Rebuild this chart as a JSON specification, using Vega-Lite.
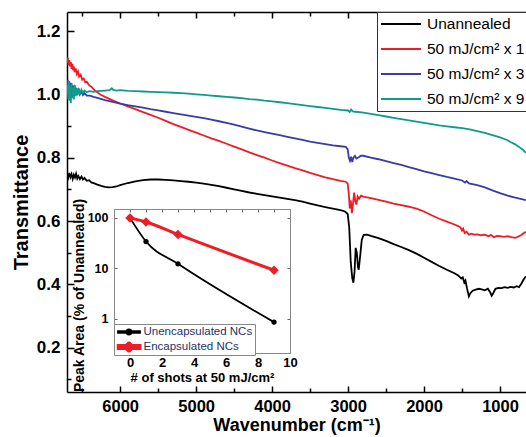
{
"$schema": "https://vega.github.io/schema/vega-lite/v6.json",
"width": 459,
"height": 380,
"autosize": {"type": "none"},
"padding": {"left": 67, "top": 12, "right": 0, "bottom": 45},
"background": "white",
"config": {"view": {"stroke": null}, "font": "Liberation Sans", "axis": {"grid": false}},
"datasets": {
"inset": [
{"g":"Unencapsulated NCs","n":0,"p":100},{"g":"Unencapsulated NCs","n":1,"p":34},{"g":"Unencapsulated NCs","n":3,"p":12.3},{"g":"Unencapsulated NCs","n":9,"p":0.86},
{"g":"Encapsulated NCs","n":0,"p":100},{"g":"Encapsulated NCs","n":1,"p":83},{"g":"Encapsulated NCs","n":3,"p":47},{"g":"Encapsulated NCs","n":9,"p":9.2}
],
"spec": [
{"s":"Unannealed","w":6700,"t":0.745},{"s":"Unannealed","w":6685,"t":0.736},{"s":"Unannealed","w":6670,"t":0.752},{"s":"Unannealed","w":6655,"t":0.738},{"s":"Unannealed","w":6640,"t":0.748},{"s":"Unannealed","w":6625,"t":0.733},{"s":"Unannealed","w":6610,"t":0.746},{"s":"Unannealed","w":6595,"t":0.737},{"s":"Unannealed","w":6580,"t":0.749},{"s":"Unannealed","w":6565,"t":0.734},{"s":"Unannealed","w":6550,"t":0.742},{"s":"Unannealed","w":6530,"t":0.732},{"s":"Unannealed","w":6510,"t":0.740},{"s":"Unannealed","w":6490,"t":0.731},{"s":"Unannealed","w":6470,"t":0.736},{"s":"Unannealed","w":6440,"t":0.727},{"s":"Unannealed","w":6410,"t":0.729},{"s":"Unannealed","w":6380,"t":0.722},{"s":"Unannealed","w":6340,"t":0.719},{"s":"Unannealed","w":6300,"t":0.715},{"s":"Unannealed","w":6250,"t":0.711},{"s":"Unannealed","w":6200,"t":0.708},{"s":"Unannealed","w":6150,"t":0.706},{"s":"Unannealed","w":6100,"t":0.707},{"s":"Unannealed","w":6050,"t":0.709},{"s":"Unannealed","w":6000,"t":0.713},{"s":"Unannealed","w":5900,"t":0.720},{"s":"Unannealed","w":5800,"t":0.725},{"s":"Unannealed","w":5700,"t":0.729},{"s":"Unannealed","w":5600,"t":0.731},{"s":"Unannealed","w":5500,"t":0.731},{"s":"Unannealed","w":5400,"t":0.730},{"s":"Unannealed","w":5300,"t":0.728},{"s":"Unannealed","w":5200,"t":0.726},{"s":"Unannealed","w":5100,"t":0.724},{"s":"Unannealed","w":5000,"t":0.721},{"s":"Unannealed","w":4900,"t":0.718},{"s":"Unannealed","w":4800,"t":0.714},{"s":"Unannealed","w":4700,"t":0.710},{"s":"Unannealed","w":4600,"t":0.705},{"s":"Unannealed","w":4500,"t":0.700},{"s":"Unannealed","w":4400,"t":0.695},{"s":"Unannealed","w":4300,"t":0.690},{"s":"Unannealed","w":4200,"t":0.686},{"s":"Unannealed","w":4100,"t":0.682},{"s":"Unannealed","w":4000,"t":0.678},{"s":"Unannealed","w":3900,"t":0.674},{"s":"Unannealed","w":3800,"t":0.670},{"s":"Unannealed","w":3700,"t":0.666},{"s":"Unannealed","w":3600,"t":0.661},{"s":"Unannealed","w":3500,"t":0.655},{"s":"Unannealed","w":3400,"t":0.649},{"s":"Unannealed","w":3300,"t":0.644},{"s":"Unannealed","w":3200,"t":0.639},{"s":"Unannealed","w":3100,"t":0.634},{"s":"Unannealed","w":3040,"t":0.630},{"s":"Unannealed","w":3005,"t":0.622},{"s":"Unannealed","w":2985,"t":0.58},{"s":"Unannealed","w":2965,"t":0.47},{"s":"Unannealed","w":2945,"t":0.42},{"s":"Unannealed","w":2930,"t":0.405},{"s":"Unannealed","w":2915,"t":0.44},{"s":"Unannealed","w":2900,"t":0.515},{"s":"Unannealed","w":2885,"t":0.50},{"s":"Unannealed","w":2870,"t":0.455},{"s":"Unannealed","w":2860,"t":0.446},{"s":"Unannealed","w":2845,"t":0.48},{"s":"Unannealed","w":2820,"t":0.54},{"s":"Unannealed","w":2795,"t":0.556},{"s":"Unannealed","w":2750,"t":0.557},{"s":"Unannealed","w":2700,"t":0.553},{"s":"Unannealed","w":2600,"t":0.546},{"s":"Unannealed","w":2500,"t":0.537},{"s":"Unannealed","w":2400,"t":0.527},{"s":"Unannealed","w":2300,"t":0.518},{"s":"Unannealed","w":2200,"t":0.508},{"s":"Unannealed","w":2100,"t":0.497},{"s":"Unannealed","w":2000,"t":0.484},{"s":"Unannealed","w":1900,"t":0.471},{"s":"Unannealed","w":1800,"t":0.458},{"s":"Unannealed","w":1700,"t":0.446},{"s":"Unannealed","w":1600,"t":0.435},{"s":"Unannealed","w":1550,"t":0.428},{"s":"Unannealed","w":1510,"t":0.418},{"s":"Unannealed","w":1490,"t":0.422},{"s":"Unannealed","w":1470,"t":0.406},{"s":"Unannealed","w":1455,"t":0.412},{"s":"Unannealed","w":1435,"t":0.388},{"s":"Unannealed","w":1410,"t":0.362},{"s":"Unannealed","w":1390,"t":0.372},{"s":"Unannealed","w":1360,"t":0.380},{"s":"Unannealed","w":1320,"t":0.383},{"s":"Unannealed","w":1280,"t":0.386},{"s":"Unannealed","w":1240,"t":0.384},{"s":"Unannealed","w":1200,"t":0.381},{"s":"Unannealed","w":1160,"t":0.386},{"s":"Unannealed","w":1130,"t":0.375},{"s":"Unannealed","w":1110,"t":0.364},{"s":"Unannealed","w":1090,"t":0.372},{"s":"Unannealed","w":1060,"t":0.386},{"s":"Unannealed","w":1020,"t":0.389},{"s":"Unannealed","w":980,"t":0.388},{"s":"Unannealed","w":940,"t":0.391},{"s":"Unannealed","w":900,"t":0.389},{"s":"Unannealed","w":860,"t":0.392},{"s":"Unannealed","w":820,"t":0.390},{"s":"Unannealed","w":780,"t":0.394},{"s":"Unannealed","w":750,"t":0.391},{"s":"Unannealed","w":720,"t":0.402},{"s":"Unannealed","w":690,"t":0.415},{"s":"Unannealed","w":660,"t":0.425},
{"s":"50 mJ/cm² x 1","w":6700,"t":1.100},{"s":"50 mJ/cm² x 1","w":6690,"t":1.115},{"s":"50 mJ/cm² x 1","w":6680,"t":1.092},{"s":"50 mJ/cm² x 1","w":6670,"t":1.108},{"s":"50 mJ/cm² x 1","w":6660,"t":1.088},{"s":"50 mJ/cm² x 1","w":6650,"t":1.102},{"s":"50 mJ/cm² x 1","w":6640,"t":1.080},{"s":"50 mJ/cm² x 1","w":6630,"t":1.096},{"s":"50 mJ/cm² x 1","w":6620,"t":1.076},{"s":"50 mJ/cm² x 1","w":6610,"t":1.088},{"s":"50 mJ/cm² x 1","w":6600,"t":1.070},{"s":"50 mJ/cm² x 1","w":6585,"t":1.082},{"s":"50 mJ/cm² x 1","w":6570,"t":1.064},{"s":"50 mJ/cm² x 1","w":6555,"t":1.072},{"s":"50 mJ/cm² x 1","w":6540,"t":1.056},{"s":"50 mJ/cm² x 1","w":6520,"t":1.062},{"s":"50 mJ/cm² x 1","w":6500,"t":1.046},{"s":"50 mJ/cm² x 1","w":6480,"t":1.050},{"s":"50 mJ/cm² x 1","w":6460,"t":1.038},{"s":"50 mJ/cm² x 1","w":6440,"t":1.040},{"s":"50 mJ/cm² x 1","w":6410,"t":1.029},{"s":"50 mJ/cm² x 1","w":6380,"t":1.024},{"s":"50 mJ/cm² x 1","w":6350,"t":1.016},{"s":"50 mJ/cm² x 1","w":6320,"t":1.010},{"s":"50 mJ/cm² x 1","w":6290,"t":1.004},{"s":"50 mJ/cm² x 1","w":6250,"t":0.998},{"s":"50 mJ/cm² x 1","w":6200,"t":0.992},{"s":"50 mJ/cm² x 1","w":6100,"t":0.981},{"s":"50 mJ/cm² x 1","w":6000,"t":0.971},{"s":"50 mJ/cm² x 1","w":5900,"t":0.962},{"s":"50 mJ/cm² x 1","w":5800,"t":0.953},{"s":"50 mJ/cm² x 1","w":5700,"t":0.944},{"s":"50 mJ/cm² x 1","w":5600,"t":0.935},{"s":"50 mJ/cm² x 1","w":5500,"t":0.926},{"s":"50 mJ/cm² x 1","w":5400,"t":0.916},{"s":"50 mJ/cm² x 1","w":5300,"t":0.906},{"s":"50 mJ/cm² x 1","w":5200,"t":0.897},{"s":"50 mJ/cm² x 1","w":5100,"t":0.888},{"s":"50 mJ/cm² x 1","w":5000,"t":0.879},{"s":"50 mJ/cm² x 1","w":4900,"t":0.870},{"s":"50 mJ/cm² x 1","w":4800,"t":0.861},{"s":"50 mJ/cm² x 1","w":4700,"t":0.853},{"s":"50 mJ/cm² x 1","w":4600,"t":0.844},{"s":"50 mJ/cm² x 1","w":4500,"t":0.835},{"s":"50 mJ/cm² x 1","w":4400,"t":0.826},{"s":"50 mJ/cm² x 1","w":4300,"t":0.817},{"s":"50 mJ/cm² x 1","w":4200,"t":0.808},{"s":"50 mJ/cm² x 1","w":4100,"t":0.800},{"s":"50 mJ/cm² x 1","w":4000,"t":0.791},{"s":"50 mJ/cm² x 1","w":3900,"t":0.783},{"s":"50 mJ/cm² x 1","w":3800,"t":0.775},{"s":"50 mJ/cm² x 1","w":3700,"t":0.767},{"s":"50 mJ/cm² x 1","w":3600,"t":0.760},{"s":"50 mJ/cm² x 1","w":3500,"t":0.752},{"s":"50 mJ/cm² x 1","w":3400,"t":0.745},{"s":"50 mJ/cm² x 1","w":3300,"t":0.738},{"s":"50 mJ/cm² x 1","w":3200,"t":0.732},{"s":"50 mJ/cm² x 1","w":3100,"t":0.727},{"s":"50 mJ/cm² x 1","w":3030,"t":0.724},{"s":"50 mJ/cm² x 1","w":3005,"t":0.718},{"s":"50 mJ/cm² x 1","w":2990,"t":0.685},{"s":"50 mJ/cm² x 1","w":2978,"t":0.64},{"s":"50 mJ/cm² x 1","w":2965,"t":0.665},{"s":"50 mJ/cm² x 1","w":2950,"t":0.625},{"s":"50 mJ/cm² x 1","w":2935,"t":0.655},{"s":"50 mJ/cm² x 1","w":2920,"t":0.69},{"s":"50 mJ/cm² x 1","w":2905,"t":0.662},{"s":"50 mJ/cm² x 1","w":2890,"t":0.652},{"s":"50 mJ/cm² x 1","w":2875,"t":0.678},{"s":"50 mJ/cm² x 1","w":2855,"t":0.670},{"s":"50 mJ/cm² x 1","w":2830,"t":0.680},{"s":"50 mJ/cm² x 1","w":2800,"t":0.677},{"s":"50 mJ/cm² x 1","w":2700,"t":0.672},{"s":"50 mJ/cm² x 1","w":2600,"t":0.667},{"s":"50 mJ/cm² x 1","w":2500,"t":0.661},{"s":"50 mJ/cm² x 1","w":2400,"t":0.655},{"s":"50 mJ/cm² x 1","w":2300,"t":0.650},{"s":"50 mJ/cm² x 1","w":2200,"t":0.645},{"s":"50 mJ/cm² x 1","w":2100,"t":0.639},{"s":"50 mJ/cm² x 1","w":2000,"t":0.630},{"s":"50 mJ/cm² x 1","w":1900,"t":0.618},{"s":"50 mJ/cm² x 1","w":1800,"t":0.607},{"s":"50 mJ/cm² x 1","w":1700,"t":0.598},{"s":"50 mJ/cm² x 1","w":1600,"t":0.589},{"s":"50 mJ/cm² x 1","w":1550,"t":0.584},{"s":"50 mJ/cm² x 1","w":1520,"t":0.580},{"s":"50 mJ/cm² x 1","w":1500,"t":0.570},{"s":"50 mJ/cm² x 1","w":1485,"t":0.576},{"s":"50 mJ/cm² x 1","w":1465,"t":0.562},{"s":"50 mJ/cm² x 1","w":1440,"t":0.566},{"s":"50 mJ/cm² x 1","w":1410,"t":0.557},{"s":"50 mJ/cm² x 1","w":1380,"t":0.560},{"s":"50 mJ/cm² x 1","w":1340,"t":0.557},{"s":"50 mJ/cm² x 1","w":1300,"t":0.558},{"s":"50 mJ/cm² x 1","w":1250,"t":0.555},{"s":"50 mJ/cm² x 1","w":1200,"t":0.557},{"s":"50 mJ/cm² x 1","w":1150,"t":0.552},{"s":"50 mJ/cm² x 1","w":1120,"t":0.556},{"s":"50 mJ/cm² x 1","w":1080,"t":0.549},{"s":"50 mJ/cm² x 1","w":1040,"t":0.553},{"s":"50 mJ/cm² x 1","w":1000,"t":0.552},{"s":"50 mJ/cm² x 1","w":950,"t":0.550},{"s":"50 mJ/cm² x 1","w":900,"t":0.552},{"s":"50 mJ/cm² x 1","w":850,"t":0.549},{"s":"50 mJ/cm² x 1","w":800,"t":0.547},{"s":"50 mJ/cm² x 1","w":760,"t":0.551},{"s":"50 mJ/cm² x 1","w":720,"t":0.556},{"s":"50 mJ/cm² x 1","w":690,"t":0.561},{"s":"50 mJ/cm² x 1","w":660,"t":0.566},
{"s":"50 mJ/cm² x 3","w":6700,"t":1.030},{"s":"50 mJ/cm² x 3","w":6690,"t":1.046},{"s":"50 mJ/cm² x 3","w":6680,"t":1.020},{"s":"50 mJ/cm² x 3","w":6670,"t":1.040},{"s":"50 mJ/cm² x 3","w":6660,"t":1.015},{"s":"50 mJ/cm² x 3","w":6650,"t":1.036},{"s":"50 mJ/cm² x 3","w":6640,"t":1.012},{"s":"50 mJ/cm² x 3","w":6628,"t":1.030},{"s":"50 mJ/cm² x 3","w":6616,"t":1.008},{"s":"50 mJ/cm² x 3","w":6604,"t":1.026},{"s":"50 mJ/cm² x 3","w":6592,"t":1.006},{"s":"50 mJ/cm² x 3","w":6578,"t":1.020},{"s":"50 mJ/cm² x 3","w":6562,"t":1.004},{"s":"50 mJ/cm² x 3","w":6546,"t":1.014},{"s":"50 mJ/cm² x 3","w":6530,"t":1.000},{"s":"50 mJ/cm² x 3","w":6510,"t":1.008},{"s":"50 mJ/cm² x 3","w":6490,"t":0.998},{"s":"50 mJ/cm² x 3","w":6470,"t":1.004},{"s":"50 mJ/cm² x 3","w":6440,"t":0.996},{"s":"50 mJ/cm² x 3","w":6400,"t":0.996},{"s":"50 mJ/cm² x 3","w":6350,"t":0.992},{"s":"50 mJ/cm² x 3","w":6300,"t":0.989},{"s":"50 mJ/cm² x 3","w":6200,"t":0.982},{"s":"50 mJ/cm² x 3","w":6100,"t":0.976},{"s":"50 mJ/cm² x 3","w":6000,"t":0.971},{"s":"50 mJ/cm² x 3","w":5900,"t":0.966},{"s":"50 mJ/cm² x 3","w":5800,"t":0.962},{"s":"50 mJ/cm² x 3","w":5700,"t":0.958},{"s":"50 mJ/cm² x 3","w":5600,"t":0.953},{"s":"50 mJ/cm² x 3","w":5500,"t":0.949},{"s":"50 mJ/cm² x 3","w":5400,"t":0.945},{"s":"50 mJ/cm² x 3","w":5300,"t":0.941},{"s":"50 mJ/cm² x 3","w":5200,"t":0.937},{"s":"50 mJ/cm² x 3","w":5100,"t":0.933},{"s":"50 mJ/cm² x 3","w":5000,"t":0.929},{"s":"50 mJ/cm² x 3","w":4900,"t":0.925},{"s":"50 mJ/cm² x 3","w":4800,"t":0.920},{"s":"50 mJ/cm² x 3","w":4700,"t":0.915},{"s":"50 mJ/cm² x 3","w":4600,"t":0.910},{"s":"50 mJ/cm² x 3","w":4500,"t":0.904},{"s":"50 mJ/cm² x 3","w":4400,"t":0.898},{"s":"50 mJ/cm² x 3","w":4300,"t":0.892},{"s":"50 mJ/cm² x 3","w":4200,"t":0.886},{"s":"50 mJ/cm² x 3","w":4100,"t":0.881},{"s":"50 mJ/cm² x 3","w":4000,"t":0.876},{"s":"50 mJ/cm² x 3","w":3900,"t":0.871},{"s":"50 mJ/cm² x 3","w":3800,"t":0.866},{"s":"50 mJ/cm² x 3","w":3700,"t":0.861},{"s":"50 mJ/cm² x 3","w":3600,"t":0.856},{"s":"50 mJ/cm² x 3","w":3500,"t":0.851},{"s":"50 mJ/cm² x 3","w":3400,"t":0.847},{"s":"50 mJ/cm² x 3","w":3300,"t":0.843},{"s":"50 mJ/cm² x 3","w":3200,"t":0.839},{"s":"50 mJ/cm² x 3","w":3100,"t":0.836},{"s":"50 mJ/cm² x 3","w":3030,"t":0.834},{"s":"50 mJ/cm² x 3","w":3005,"t":0.826},{"s":"50 mJ/cm² x 3","w":2990,"t":0.800},{"s":"50 mJ/cm² x 3","w":2975,"t":0.790},{"s":"50 mJ/cm² x 3","w":2960,"t":0.803},{"s":"50 mJ/cm² x 3","w":2945,"t":0.786},{"s":"50 mJ/cm² x 3","w":2930,"t":0.800},{"s":"50 mJ/cm² x 3","w":2910,"t":0.806},{"s":"50 mJ/cm² x 3","w":2890,"t":0.797},{"s":"50 mJ/cm² x 3","w":2860,"t":0.801},{"s":"50 mJ/cm² x 3","w":2830,"t":0.806},{"s":"50 mJ/cm² x 3","w":2800,"t":0.806},{"s":"50 mJ/cm² x 3","w":2700,"t":0.800},{"s":"50 mJ/cm² x 3","w":2600,"t":0.795},{"s":"50 mJ/cm² x 3","w":2500,"t":0.789},{"s":"50 mJ/cm² x 3","w":2400,"t":0.783},{"s":"50 mJ/cm² x 3","w":2300,"t":0.777},{"s":"50 mJ/cm² x 3","w":2200,"t":0.770},{"s":"50 mJ/cm² x 3","w":2100,"t":0.764},{"s":"50 mJ/cm² x 3","w":2000,"t":0.757},{"s":"50 mJ/cm² x 3","w":1900,"t":0.751},{"s":"50 mJ/cm² x 3","w":1800,"t":0.745},{"s":"50 mJ/cm² x 3","w":1700,"t":0.739},{"s":"50 mJ/cm² x 3","w":1600,"t":0.734},{"s":"50 mJ/cm² x 3","w":1500,"t":0.728},{"s":"50 mJ/cm² x 3","w":1460,"t":0.721},{"s":"50 mJ/cm² x 3","w":1440,"t":0.726},{"s":"50 mJ/cm² x 3","w":1410,"t":0.719},{"s":"50 mJ/cm² x 3","w":1300,"t":0.713},{"s":"50 mJ/cm² x 3","w":1200,"t":0.706},{"s":"50 mJ/cm² x 3","w":1100,"t":0.697},{"s":"50 mJ/cm² x 3","w":1000,"t":0.688},{"s":"50 mJ/cm² x 3","w":900,"t":0.680},{"s":"50 mJ/cm² x 3","w":800,"t":0.674},{"s":"50 mJ/cm² x 3","w":700,"t":0.668},{"s":"50 mJ/cm² x 3","w":660,"t":0.666},
{"s":"50 mJ/cm² x 9","w":6700,"t":1.000},{"s":"50 mJ/cm² x 9","w":6692,"t":1.030},{"s":"50 mJ/cm² x 9","w":6684,"t":0.985},{"s":"50 mJ/cm² x 9","w":6676,"t":1.042},{"s":"50 mJ/cm² x 9","w":6668,"t":0.980},{"s":"50 mJ/cm² x 9","w":6660,"t":1.028},{"s":"50 mJ/cm² x 9","w":6650,"t":0.972},{"s":"50 mJ/cm² x 9","w":6640,"t":1.036},{"s":"50 mJ/cm² x 9","w":6630,"t":0.988},{"s":"50 mJ/cm² x 9","w":6620,"t":1.022},{"s":"50 mJ/cm² x 9","w":6610,"t":0.984},{"s":"50 mJ/cm² x 9","w":6598,"t":1.030},{"s":"50 mJ/cm² x 9","w":6585,"t":0.994},{"s":"50 mJ/cm² x 9","w":6572,"t":1.020},{"s":"50 mJ/cm² x 9","w":6560,"t":0.998},{"s":"50 mJ/cm² x 9","w":6545,"t":1.018},{"s":"50 mJ/cm² x 9","w":6530,"t":1.002},{"s":"50 mJ/cm² x 9","w":6510,"t":1.015},{"s":"50 mJ/cm² x 9","w":6490,"t":1.004},{"s":"50 mJ/cm² x 9","w":6470,"t":1.012},{"s":"50 mJ/cm² x 9","w":6440,"t":1.007},{"s":"50 mJ/cm² x 9","w":6400,"t":1.010},{"s":"50 mJ/cm² x 9","w":6350,"t":1.008},{"s":"50 mJ/cm² x 9","w":6300,"t":1.010},{"s":"50 mJ/cm² x 9","w":6200,"t":1.012},{"s":"50 mJ/cm² x 9","w":6140,"t":1.013},{"s":"50 mJ/cm² x 9","w":6110,"t":1.019},{"s":"50 mJ/cm² x 9","w":6090,"t":1.014},{"s":"50 mJ/cm² x 9","w":6050,"t":1.012},{"s":"50 mJ/cm² x 9","w":6000,"t":1.013},{"s":"50 mJ/cm² x 9","w":5900,"t":1.011},{"s":"50 mJ/cm² x 9","w":5800,"t":1.010},{"s":"50 mJ/cm² x 9","w":5700,"t":1.009},{"s":"50 mJ/cm² x 9","w":5600,"t":1.008},{"s":"50 mJ/cm² x 9","w":5500,"t":1.007},{"s":"50 mJ/cm² x 9","w":5400,"t":1.006},{"s":"50 mJ/cm² x 9","w":5300,"t":1.005},{"s":"50 mJ/cm² x 9","w":5200,"t":1.004},{"s":"50 mJ/cm² x 9","w":5100,"t":1.002},{"s":"50 mJ/cm² x 9","w":5000,"t":1.000},{"s":"50 mJ/cm² x 9","w":4900,"t":0.998},{"s":"50 mJ/cm² x 9","w":4800,"t":0.996},{"s":"50 mJ/cm² x 9","w":4700,"t":0.994},{"s":"50 mJ/cm² x 9","w":4600,"t":0.992},{"s":"50 mJ/cm² x 9","w":4500,"t":0.990},{"s":"50 mJ/cm² x 9","w":4400,"t":0.988},{"s":"50 mJ/cm² x 9","w":4300,"t":0.985},{"s":"50 mJ/cm² x 9","w":4200,"t":0.983},{"s":"50 mJ/cm² x 9","w":4100,"t":0.980},{"s":"50 mJ/cm² x 9","w":4000,"t":0.978},{"s":"50 mJ/cm² x 9","w":3900,"t":0.975},{"s":"50 mJ/cm² x 9","w":3800,"t":0.972},{"s":"50 mJ/cm² x 9","w":3700,"t":0.969},{"s":"50 mJ/cm² x 9","w":3600,"t":0.966},{"s":"50 mJ/cm² x 9","w":3500,"t":0.963},{"s":"50 mJ/cm² x 9","w":3400,"t":0.960},{"s":"50 mJ/cm² x 9","w":3300,"t":0.957},{"s":"50 mJ/cm² x 9","w":3200,"t":0.954},{"s":"50 mJ/cm² x 9","w":3100,"t":0.951},{"s":"50 mJ/cm² x 9","w":3000,"t":0.949},{"s":"50 mJ/cm² x 9","w":2980,"t":0.944},{"s":"50 mJ/cm² x 9","w":2960,"t":0.952},{"s":"50 mJ/cm² x 9","w":2940,"t":0.946},{"s":"50 mJ/cm² x 9","w":2900,"t":0.945},{"s":"50 mJ/cm² x 9","w":2800,"t":0.942},{"s":"50 mJ/cm² x 9","w":2700,"t":0.938},{"s":"50 mJ/cm² x 9","w":2600,"t":0.934},{"s":"50 mJ/cm² x 9","w":2500,"t":0.930},{"s":"50 mJ/cm² x 9","w":2400,"t":0.926},{"s":"50 mJ/cm² x 9","w":2300,"t":0.922},{"s":"50 mJ/cm² x 9","w":2200,"t":0.918},{"s":"50 mJ/cm² x 9","w":2100,"t":0.914},{"s":"50 mJ/cm² x 9","w":2000,"t":0.910},{"s":"50 mJ/cm² x 9","w":1900,"t":0.906},{"s":"50 mJ/cm² x 9","w":1800,"t":0.902},{"s":"50 mJ/cm² x 9","w":1700,"t":0.899},{"s":"50 mJ/cm² x 9","w":1600,"t":0.896},{"s":"50 mJ/cm² x 9","w":1500,"t":0.893},{"s":"50 mJ/cm² x 9","w":1400,"t":0.889},{"s":"50 mJ/cm² x 9","w":1300,"t":0.884},{"s":"50 mJ/cm² x 9","w":1200,"t":0.878},{"s":"50 mJ/cm² x 9","w":1100,"t":0.871},{"s":"50 mJ/cm² x 9","w":1000,"t":0.864},{"s":"50 mJ/cm² x 9","w":900,"t":0.855},{"s":"50 mJ/cm² x 9","w":850,"t":0.848},{"s":"50 mJ/cm² x 9","w":800,"t":0.842},{"s":"50 mJ/cm² x 9","w":750,"t":0.834},{"s":"50 mJ/cm² x 9","w":700,"t":0.825},{"s":"50 mJ/cm² x 9","w":660,"t":0.815}
]
},
"layer": [
{
"data": {"name": "spec"},
"layer": [
{
"mark": {"type": "line", "strokeWidth": 1.8, "clip": true},
"encoding": {
"x": {"field": "w", "type": "quantitative",
 "scale": {"domain": [658, 6700], "reverse": true, "nice": false, "zero": false},
 "axis": {"orient": "bottom", "values": [6500,6000,5500,5000,4500,4000,3500,3000,2500,2000,1500,1000], "format": "d",
  "labelExpr": "datum.value % 1000 == 0 ? datum.label : ''",
  "tickSize": {"condition": {"test": "datum.value % 1000 == 0", "value": -6}, "value": -4},
  "tickColor": "black", "tickWidth": 1.5, "domainColor": "black", "domainWidth": 1.5,
  "labelFontSize": 16.5, "labelFontWeight": "bold", "labelColor": "black", "labelPadding": 12, "labelFlush": false,
  "title": "Wavenumber (cm⁻¹)", "titleFontSize": 18, "titleFontWeight": "bold", "titleColor": "black", "titlePadding": 2}},
"y": {"field": "t", "type": "quantitative",
 "scale": {"domain": [0.06, 1.26], "nice": false, "zero": false},
 "axis": {"orient": "left", "values": [0.1,0.2,0.3,0.4,0.5,0.6,0.7,0.8,0.9,1.0,1.1,1.2],
  "labelExpr": "round(datum.value*10) % 2 == 0 ? format(datum.value, '.1f') : ''",
  "tickSize": {"condition": {"test": "round(datum.value*10) % 2 == 0", "value": -7}, "value": -4},
  "tickColor": "black", "tickWidth": 1.5, "domainColor": "black", "domainWidth": 1.5,
  "labelFontSize": 17, "labelFontWeight": "bold", "labelColor": "black", "labelPadding": 14, "labelFlush": false,
  "title": "Transmittance", "titleFontSize": 20, "titleFontWeight": "bold", "titleColor": "black", "titlePadding": 5}},
"color": {"field": "s", "type": "nominal",
 "scale": {"domain": ["Unannealed", "50 mJ/cm² x 1", "50 mJ/cm² x 3", "50 mJ/cm² x 9"], "range": ["#000000", "#ee1c25", "#3b3ba8", "#0f9a8c"]},
 "legend": {"orient": "none", "legendX": 310, "legendY": 0, "title": null, "symbolType": "stroke", "symbolSize": 1600, "symbolStrokeWidth": 2,
  "clipHeight": 18, "rowPadding": 7, "padding": 3, "labelFontSize": 15.5, "labelColor": "black", "labelOffset": 5, "labelLimit": 0,
  "strokeColor": "#333333", "fillColor": "white"}}
}
},
{
"mark": {"type": "line", "opacity": 0},
"encoding": {
"x": {"field": "w", "type": "quantitative",
 "axis": {"orient": "top", "values": [6500,6000,5500,5000,4500,4000,3500,3000,2500,2000,1500,1000], "labels": false, "title": null,
  "tickSize": {"condition": {"test": "datum.value % 1000 == 0", "value": -6}, "value": -4},
  "tickColor": "black", "tickWidth": 1.5, "domainColor": "black", "domainWidth": 1.5}},
"y": {"field": "t", "type": "quantitative", "axis": null}
}
}
],
"resolve": {"axis": {"x": "independent", "y": "independent"}}
},
{
"data": {"name": "inset"},
"layer": [
{
"mark": {"type": "line", "interpolate": "monotone"},
"encoding": {
"x": {"field": "n", "type": "quantitative",
 "scale": {"domain": [-1, 10], "range": [47, 223], "nice": false, "zero": false},
 "axis": {"orient": "bottom", "offset": -39, "values": [0,2,4,6,8,10], "ticks": false,
  "domainColor": "#888888", "domainWidth": 1,
  "labelFontSize": 13, "labelFontWeight": "bold", "labelColor": "black", "labelPadding": 3, "labelFlush": false,
  "title": "# of shots at 50 mJ/cm²", "titleFontSize": 13, "titleFontWeight": "bold", "titleColor": "black", "titlePadding": 2}},
"y": {"field": "p", "type": "quantitative",
 "scale": {"type": "log", "domain": [0.21, 150], "range": [341, 197], "nice": false},
 "axis": {"orient": "left", "offset": -47, "values": [1, 10, 100], "tickSize": -3, "tickColor": "#666666",
  "domainColor": "#888888", "domainWidth": 1,
  "labelFontSize": 12.5, "labelFontWeight": "bold", "labelColor": "black", "labelPadding": 9, "labelFlush": false,
  "title": "Peak Area (% of Unannealed)", "titleFontSize": 14, "titleFontWeight": "bold", "titleColor": "black", "titlePadding": 1, "titleY": 283}},
"color": {"field": "g", "type": "nominal",
 "scale": {"domain": ["Unencapsulated NCs", "Encapsulated NCs"], "range": ["#000000", "#ee1c25"]},
 "legend": {"orient": "none", "legendX": 47, "legendY": 312, "title": null, "direction": "vertical",
  "clipHeight": 11, "rowPadding": 3, "padding": 2.5, "symbolSize": 484, "symbolType": "M-1,-0.08H1V0.08H-1Z",
  "labelFontSize": 11.5, "labelColor": "#283264", "labelOffset": 2, "labelLimit": 0,
  "labelExpr": "datum.label + '\u00a0\u00a0\u00a0\u00a0\u00a0\u00a0'",
  "strokeColor": "#888888", "fillColor": "white",
  "encode": {"symbols": {"update": {
    "shape": {"signal": "datum.value == 'Unencapsulated NCs' ? 'M-1,-0.08H1V0.08H-1Z M0.23,0A0.23,0.23 0 1 1 -0.23,0A0.23,0.23 0 1 1 0.23,0Z' : 'M-1,-0.14H1V0.14H-1Z M0,-0.4L0.4,0L0,0.4L-0.4,0Z'"},
    "fill": {"signal": "datum.value == 'Unencapsulated NCs' ? '#000000' : '#ee1c25'"},
    "strokeWidth": {"value": 0}}}}}},
"strokeWidth": {"field": "g", "type": "nominal", "scale": {"domain": ["Unencapsulated NCs", "Encapsulated NCs"], "range": [1.8, 3]}, "legend": null}
}
},
{
"transform": [{"filter": "datum.g == 'Unencapsulated NCs'"}],
"mark": {"type": "point", "shape": "circle", "filled": true, "size": 28, "color": "#000000", "opacity": 1},
"encoding": {
"x": {"field": "n", "type": "quantitative", "axis": null},
"y": {"field": "p", "type": "quantitative", "axis": null}
}
},
{
"transform": [{"filter": "datum.g == 'Encapsulated NCs'"}],
"mark": {"type": "point", "shape": "diamond", "filled": true, "size": 90, "color": "#ee1c25", "opacity": 1},
"encoding": {
"x": {"field": "n", "type": "quantitative", "axis": null},
"y": {"field": "p", "type": "quantitative", "axis": null}
}
},
{
"mark": {"type": "point", "opacity": 0},
"encoding": {
"x": {"field": "n", "type": "quantitative",
 "axis": {"orient": "top", "offset": -197, "values": [-1,0,1,2,3,4,5,6,7,8,9,10], "labels": false, "title": null,
  "tickSize": -3, "tickColor": "#666666", "domainColor": "#888888", "domainWidth": 1}},
"y": {"field": "p", "type": "quantitative",
 "axis": {"orient": "right", "offset": -236, "values": [1, 10, 100], "labels": false, "title": null,
  "tickSize": -3, "tickColor": "#666666", "domainColor": "#888888", "domainWidth": 1}}
}
}
],
"resolve": {"axis": {"x": "independent", "y": "independent"}}
}
],
"resolve": {"scale": {"x": "independent", "y": "independent", "color": "independent", "strokeWidth": "independent"}}
}
